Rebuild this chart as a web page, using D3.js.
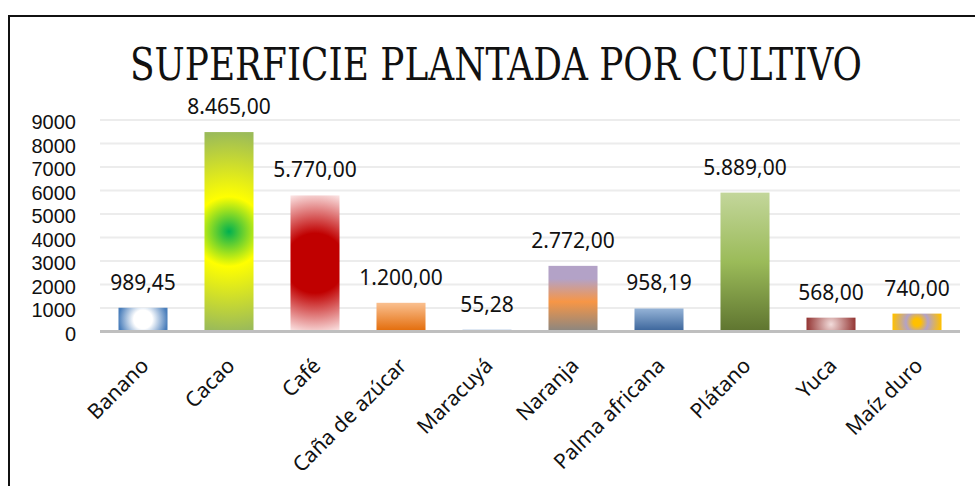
<!DOCTYPE html>
<html>
<head>
<meta charset="utf-8">
<script src="https://cdn.jsdelivr.net/npm/d3@7"></script>
<style>
    body { margin: 0; background: #fff; }
    svg { display: block; }
</style>
</head>
<body>
<svg id="chart" width="975" height="486"></svg>
<script>
// Requires d3

var title = "SUPERFICIE PLANTADA POR CULTIVO";
var cultivos = ["Banano", "Cacao", "Café", "Caña de azúcar", "Maracuyá", "Naranja",
    "Palma africana", "Plátano", "Yuca", "Maíz duro"];
var hectareas = [989.45, 8465.00, 5770.00, 1200.00, 55.28, 2772.00, 958.19, 5889.00, 568.00, 740.00];
var yTicks = [0, 1000, 2000, 3000, 4000, 5000, 6000, 7000, 8000, 9000];

// fills for each bar, same order as cultivos
var fills = [
    {type: "radial", stops: [[0, "#ffffff"], [0.38, "#ffffff"], [1, "#4a7ebb"]]},
    {type: "radial", stops: [[0, "#00b050"], [0.35, "#ffff00"], [1, "#9bbb59"]]},
    {type: "radial", stops: [[0, "#c00000"], [0.4, "#c00000"], [1, "#fff4f4"]]},
    {type: "linear", stops: [[0, "#fac090"], [1, "#e36c0a"]]},
    {type: "linear", stops: [[0, "#95b3d7"], [1, "#8eaadb"]]},
    {type: "linear", stops: [[0, "#b3a2c7"], [0.2, "#b3a2c7"], [0.55, "#f79646"], [1, "#8b8680"]]},
    {type: "linear", stops: [[0, "#95b3d7"], [1, "#3b659b"]]},
    {type: "linear", stops: [[0, "#c3d69b"], [0.5, "#9bbb59"], [1, "#5f7530"]]},
    {type: "radial", stops: [[0, "#f2dcdb"], [1, "#943634"]]},
    {type: "radial", stops: [[0, "#ffc000"], [0.15, "#ffc000"], [0.45, "#b3a2c7"], [1, "#ffc000"]]}
];

var svg = d3.select("svg#chart");
var margin = {top: 119.5, left: 100, right: 15, bottom: 155};
var width = 975 - margin.left - margin.right,
    height = 486 - margin.top - margin.bottom;

var es = d3.formatLocale({decimal: ",", thousands: ".", grouping: [3], currency: ["", ""]});
var fmt = es.format(",.2f");

var x = d3.scaleBand()
    .domain(cultivos)
    .range([margin.left, margin.left + width])
    .paddingInner(0.43)
    .paddingOuter(0.215);
var y = d3.scaleLinear()
    .domain([0, 9000])
    .range([331, margin.top]);

svg.append("rect")
    .attr("width", 975).attr("height", 486)
    .attr("fill", "#fff");

// outer frame (top and left edge only visible)
svg.append("path")
    .attr("d", "M9,486V16H975")
    .attr("fill", "none")
    .attr("stroke", "#111")
    .attr("stroke-width", 2);

svg.append("text")
    .attr("x", 496)
    .attr("y", 80)
    .attr("text-anchor", "middle")
    .attr("font-family", "DejaVu Serif")
    .attr("font-stretch", "condensed")
    .attr("font-size", 45)
    .attr("textLength", 732)
    .attr("lengthAdjust", "spacingAndGlyphs")
    .attr("fill", "#111")
    .text(title);

// gridlines + y labels
var yAxis = svg.append("g")
    .attr("transform", "translate(" + margin.left + ",0)")
    .call(d3.axisLeft(y)
        .tickValues(yTicks)
        .tickSize(-width)
        .tickPadding(24)
        .tickFormat(d3.format("d")));
yAxis.select(".domain").remove();
yAxis.selectAll(".tick line")
    .attr("stroke", function (d) { return d === 0 ? "none" : "#ececec"; })
    .attr("stroke-width", 2);
yAxis.selectAll(".tick text")
    .attr("font-family", "Liberation Sans")
    .attr("font-size", 20)
    .attr("dy", "0.45em")
    .attr("fill", "#111");

var defs = svg.append("defs");
fills.forEach(function (f, i) {
    var v = hectareas[i],
        cx = x(cultivos[i]) + x.bandwidth() / 2,
        top = y(v), bottom = y(0),
        grad;
    if (f.type === "linear") {
        grad = defs.append("linearGradient")
            .attr("x1", 0).attr("y1", 0).attr("x2", 0).attr("y2", 1);
    } else {
        var r = Math.max((bottom - top) / 2, x.bandwidth() / 2);
        grad = defs.append("radialGradient")
            .attr("gradientUnits", "userSpaceOnUse")
            .attr("cx", cx).attr("cy", (top + bottom) / 2)
            .attr("r", i === 2 ? r * 1.1 : r);
    }
    grad.attr("id", "fill" + i);
    f.stops.forEach(function (s) {
        grad.append("stop").attr("offset", s[0]).attr("stop-color", s[1]);
    });
});

svg.append("g").selectAll("rect")
    .data(hectareas)
    .enter().append("rect")
    .attr("x", function (d, i) { return x(cultivos[i]); })
    .attr("y", function (d) { return y(d); })
    .attr("width", x.bandwidth())
    .attr("height", function (d) { return y(0) - y(d); })
    .attr("fill", function (d, i) { return "url(#fill" + i + ")"; });

svg.append("line")
    .attr("x1", margin.left).attr("x2", margin.left + width)
    .attr("y1", y(0) + 0.5).attr("y2", y(0) + 0.5)
    .attr("stroke", "#bfbfbf")
    .attr("stroke-width", 3);

svg.append("g").selectAll("text")
    .data(hectareas)
    .enter().append("text")
    .attr("x", function (d, i) { return x(cultivos[i]) + x.bandwidth() / 2; })
    .attr("y", function (d) { return y(d) - 18; })
    .attr("text-anchor", "middle")
    .attr("font-family", "Noto Sans")
    .attr("font-size", 21)
    .attr("fill", "#111")
    .text(function (d) { return fmt(d); });

// category labels, rotated
var xAxis = svg.append("g")
    .attr("transform", "translate(0," + y(0) + ")")
    .call(d3.axisBottom(x).tickSize(0).tickPadding(0));
xAxis.select(".domain").remove();
xAxis.selectAll(".tick text")
    .attr("font-family", "Noto Sans")
    .attr("font-size", 21)
    .attr("fill", "#111")
    .attr("text-anchor", "end")
    .attr("dy", null)
    .attr("transform", "translate(7,36) rotate(-45)");
</script>
</body>
</html>
